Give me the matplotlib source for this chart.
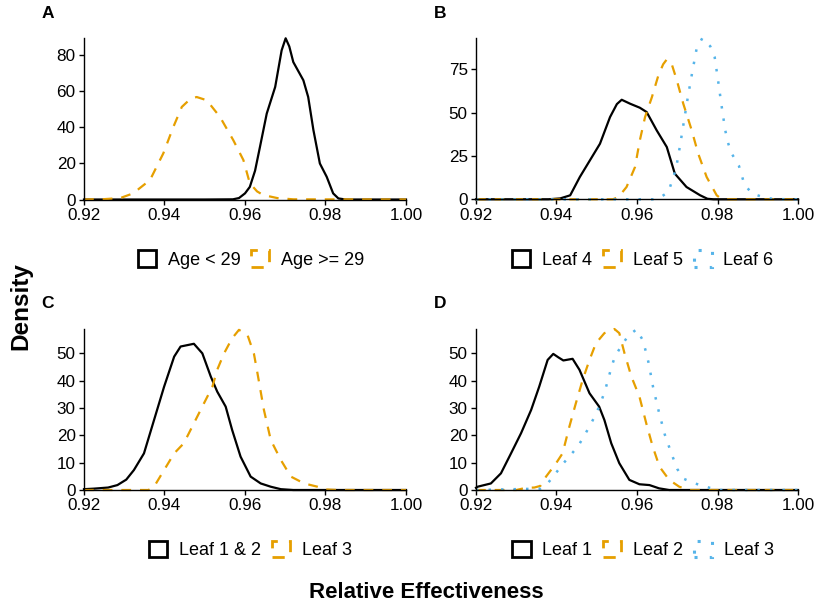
import matplotlib
matplotlib.use("Agg")
import matplotlib.pyplot as plt
from matplotlib.patches import Patch

plt.rcParams['font.family'] = ['Liberation Sans', 'DejaVu Sans']

BLACK = "#000000"
ORANGE = "#E69F00"
BLUE = "#56B4E9"

# ---------------- Panel A ----------------
a_young_x = [0.920, 0.950, 0.9570, 0.9585, 0.9600, 0.9612, 0.9625, 0.9637, 0.9654, 0.9675,
             0.9691, 0.9701, 0.9710, 0.9720, 0.9745, 0.9757, 0.9770, 0.9786, 0.9803, 0.9819,
             0.9832, 0.9850, 1.000]
a_young_y = [0.0, 0.0, 0.1, 0.8, 3.4, 7.0, 16.0, 29.0, 47.7, 62.5,
             82.8, 89.5, 85.0, 76.3, 66.2, 56.9, 38.5, 20.0, 12.6, 3.4,
             0.6, 0.0, 0.0]
a_old_x = [0.920, 0.9250, 0.9290, 0.9322, 0.9364, 0.9397, 0.9422, 0.9443, 0.9465, 0.9480,
           0.9505, 0.9538, 0.9571, 0.9596, 0.9612, 0.9630, 0.9645, 0.9680, 0.9720, 1.000]
a_old_y = [0.0, 0.2, 0.8, 3.4, 10.8, 25.6, 40.3, 51.4, 56.0, 56.9,
           55.1, 45.8, 32.9, 21.9, 9.0, 4.5, 2.5, 0.8, 0.1, 0.0]

# ---------------- Panel B ----------------
b_leaf4_x = [0.920, 0.9380, 0.9409, 0.9434, 0.9458, 0.9483, 0.9508, 0.9533, 0.9550, 0.9562,
             0.9583, 0.9607, 0.9624, 0.9649, 0.9674, 0.9694, 0.9723, 0.9757, 0.9775, 0.9790,
             1.000]
b_leaf4_y = [0.0, 0.0, 0.5, 2.3, 12.9, 22.5, 32.1, 47.5, 55.0, 57.5,
             55.2, 52.9, 50.4, 39.8, 30.2, 14.8, 7.1, 2.3, 0.3, 0.0,
             0.0]
b_leaf5_x = [0.920, 0.9540, 0.9554, 0.9574, 0.9595, 0.9607, 0.9620, 0.9637, 0.9653, 0.9665,
             0.9674, 0.9686, 0.9699, 0.9715, 0.9736, 0.9752, 0.9773, 0.9798, 0.9810, 0.9830,
             1.000]
b_leaf5_y = [0.0, 0.0, 1.3, 7.1, 18.6, 34.0, 47.5, 59.0, 71.5, 78.0,
             80.8, 78.3, 68.7, 55.2, 39.8, 26.4, 12.9, 2.3, 0.2, 0.0,
             0.0]
b_leaf6_x = [0.920, 0.9640, 0.9653, 0.9678, 0.9697, 0.9707, 0.9717, 0.9727, 0.9737, 0.9748,
             0.9762, 0.9782, 0.9793, 0.9802, 0.9810, 0.9819, 0.9825, 0.9834, 0.9853, 0.9867,
             0.9886, 0.9913, 0.9940, 1.000]
b_leaf6_y = [0.0, 0.0, 0.4, 4.2, 17.7, 31.2, 45.6, 60.0, 73.1, 86.9,
             93.0, 88.4, 82.1, 67.7, 54.2, 40.2, 33.5, 26.9, 19.5, 8.5,
             3.3, 1.3, 0.1, 0.0]

# ---------------- Panel C ----------------
c_leaf12_x = [0.920, 0.9225, 0.9260, 0.9283, 0.9305, 0.9324, 0.9349, 0.9374, 0.9399, 0.9424,
              0.9440, 0.9473, 0.9494, 0.9515, 0.9531, 0.9552, 0.9568, 0.9589, 0.9614, 0.9639,
              0.9664, 0.9689, 0.9720, 1.000]
c_leaf12_y = [0.3, 0.5, 0.9, 1.8, 3.8, 7.3, 13.4, 25.6, 37.8, 48.8,
              52.5, 53.5, 50.0, 41.5, 36.0, 30.5, 22.0, 12.2, 4.9, 2.4,
              1.2, 0.3, 0.0, 0.0]
c_leaf3_x = [0.920, 0.9360, 0.9374, 0.9399, 0.9424, 0.9448, 0.9473, 0.9498, 0.9519, 0.9531,
             0.9548, 0.9568, 0.9585, 0.9606, 0.9622, 0.9631, 0.9647, 0.9664, 0.9689, 0.9714,
             0.9747, 0.9780, 0.9800, 0.9830, 1.000]
c_leaf3_y = [0.0, 0.0, 1.2, 7.3, 13.4, 17.1, 24.4, 31.7, 37.8, 44.0,
             50.0, 55.5, 58.6, 56.8, 50.0, 42.7, 29.3, 18.3, 11.0, 4.9,
             2.4, 1.2, 0.2, 0.0, 0.0]

# ---------------- Panel D ----------------
d_leaf1_x = [0.920, 0.9204, 0.9237, 0.9262, 0.9287, 0.9312, 0.9337, 0.9357, 0.9378, 0.9392,
             0.9405, 0.9417, 0.9440, 0.9457, 0.9482, 0.9506, 0.9519, 0.9536, 0.9556, 0.9581,
             0.9606, 0.9631, 0.9655, 0.9680, 1.000]
d_leaf1_y = [0.8, 1.2, 2.4, 6.1, 13.4, 20.8, 29.3, 37.8, 47.6, 49.8,
             48.5, 47.4, 48.0, 44.0, 35.4, 30.5, 25.6, 17.1, 9.8, 3.7,
             2.1, 1.8, 0.6, 0.0, 0.0]
d_leaf2_x = [0.920, 0.9300, 0.9324, 0.9345, 0.9360, 0.9374, 0.9399, 0.9415, 0.9432, 0.9448,
             0.9465, 0.9482, 0.9498, 0.9519, 0.9544, 0.9556, 0.9569, 0.9586, 0.9606, 0.9623,
             0.9639, 0.9656, 0.9680, 0.9705, 0.9730, 1.000]
d_leaf2_y = [0.0, 0.0, 0.8, 0.9, 1.5, 4.9, 9.8, 13.4, 23.2, 31.7,
             40.3, 47.6, 53.7, 57.4, 58.9, 57.4, 50.0, 41.5, 34.2, 24.4,
             15.9, 8.5, 3.7, 1.2, 0.0, 0.0]
d_leaf3_x = [0.920, 0.9360, 0.9378, 0.9397, 0.9415, 0.9435, 0.9454, 0.9469, 0.9484, 0.9498,
             0.9510, 0.9520, 0.9528, 0.9536, 0.9545, 0.9561, 0.9578, 0.9599, 0.9614, 0.9622,
             0.9629, 0.9640, 0.9647, 0.9654, 0.9669, 0.9679, 0.9689, 0.9700, 0.9716, 0.9744,
             0.9771, 0.9800, 1.000]
d_leaf3_y = [0.0, 0.5, 2.4, 5.9, 9.4, 12.8, 16.1, 19.9, 23.8, 27.8,
             32.0, 36.1, 40.3, 44.7, 48.8, 52.7, 56.4, 58.8, 54.9, 50.7,
             46.4, 37.6, 33.2, 28.8, 20.3, 16.1, 12.0, 7.7, 4.1, 2.4,
             1.2, 0.0, 0.0]

x_ticks = [0.92, 0.94, 0.96, 0.98, 1.00]
x_tick_labels = ["0.92", "0.94", "0.96", "0.98", "1.00"]

panels = [
    dict(label="A", yticks=[0, 20, 40, 60, 80], ymax=89.5,
         series=[(a_young_x, a_young_y, "Age < 29", BLACK, "-"),
                 (a_old_x, a_old_y, "Age >= 29", ORANGE, "--")]),
    dict(label="B", yticks=[0, 25, 50, 75], ymax=93.0,
         series=[(b_leaf4_x, b_leaf4_y, "Leaf 4", BLACK, "-"),
                 (b_leaf5_x, b_leaf5_y, "Leaf 5", ORANGE, "--"),
                 (b_leaf6_x, b_leaf6_y, "Leaf 6", BLUE, ":")]),
    dict(label="C", yticks=[0, 10, 20, 30, 40, 50], ymax=58.8,
         series=[(c_leaf12_x, c_leaf12_y, "Leaf 1 & 2", BLACK, "-"),
                 (c_leaf3_x, c_leaf3_y, "Leaf 3", ORANGE, "--")]),
    dict(label="D", yticks=[0, 10, 20, 30, 40, 50], ymax=58.8,
         series=[(d_leaf1_x, d_leaf1_y, "Leaf 1", BLACK, "-"),
                 (d_leaf2_x, d_leaf2_y, "Leaf 2", ORANGE, "--"),
                 (d_leaf3_x, d_leaf3_y, "Leaf 3", BLUE, ":")]),
]

W, H = 817, 606
fig = plt.figure(figsize=(W / 100, H / 100), dpi=100)
fig.patch.set_facecolor("white")

boxes = [(84, 406, 38.3, 199.5), (476, 798, 38.3, 199.3),
         (84, 406, 329.3, 490), (476, 798, 329.3, 490)]
label_pos = [(47.5, 14), (440, 14), (47.5, 303), (440, 304)]
legend_center = [(251, 259.5), (643, 259.5), (250.5, 550), (643, 550)]

LW = {"-": 1.6, "--": 1.6, ":": 1.8}
dash_map = {"-": "-", "--": (0, (4.4, 4.0)), ":": (0, (1.0, 4.0))}

for p, box, lp, lc in zip(panels, boxes, label_pos, legend_center):
    l, r, t, b = box
    ax = fig.add_axes([l / W, 1 - b / H, (r - l) / W, (b - t) / H])
    handles = []
    for xs, ys, name, col, ls in p["series"]:
        ax.plot(xs, ys, color=col, lw=LW[ls], linestyle=dash_map[ls], clip_on=False,
                solid_joinstyle="round", dash_joinstyle="round")
        hp = Patch(facecolor="none", edgecolor=col, linewidth=LW[ls] + 0.4,
                   linestyle=dash_map[ls], label=name)
        handles.append(hp)
    ax.set_xlim(0.92, 1.00)
    ax.set_ylim(0, p["ymax"])
    ax.set_xticks(x_ticks)
    ax.set_xticklabels(x_tick_labels)
    ax.set_yticks(p["yticks"])
    for s in ["top", "right"]:
        ax.spines[s].set_visible(False)
    for s in ["left", "bottom"]:
        ax.spines[s].set_linewidth(1.0)
    ax.tick_params(axis="both", direction="out", length=3.5, width=1.0,
                   labelsize=12.3, colors="black", pad=2.5)
    ax.set_facecolor("white")
    fig.text(lp[0] / W, 1 - lp[1] / H, p["label"], fontsize=12.5, fontweight="bold",
             ha="center", va="center")
    fig.legend(handles=handles, loc="center", bbox_to_anchor=(lc[0] / W, 1 - lc[1] / H),
               ncol=len(handles), frameon=False, fontsize=13, handlelength=1.0,
               handleheight=1.0, handletextpad=0.65, columnspacing=0.6, borderpad=0.0)

fig.text(21 / W, 1 - 306 / H, "Density", rotation=90, fontsize=17.5, fontweight="bold",
         ha="center", va="center")
fig.text(426.5 / W, 1 - 593 / H, "Relative Effectiveness", fontsize=16, fontweight="bold",
         ha="center", va="center")

fig.savefig("out.png", dpi=100, facecolor="white")
